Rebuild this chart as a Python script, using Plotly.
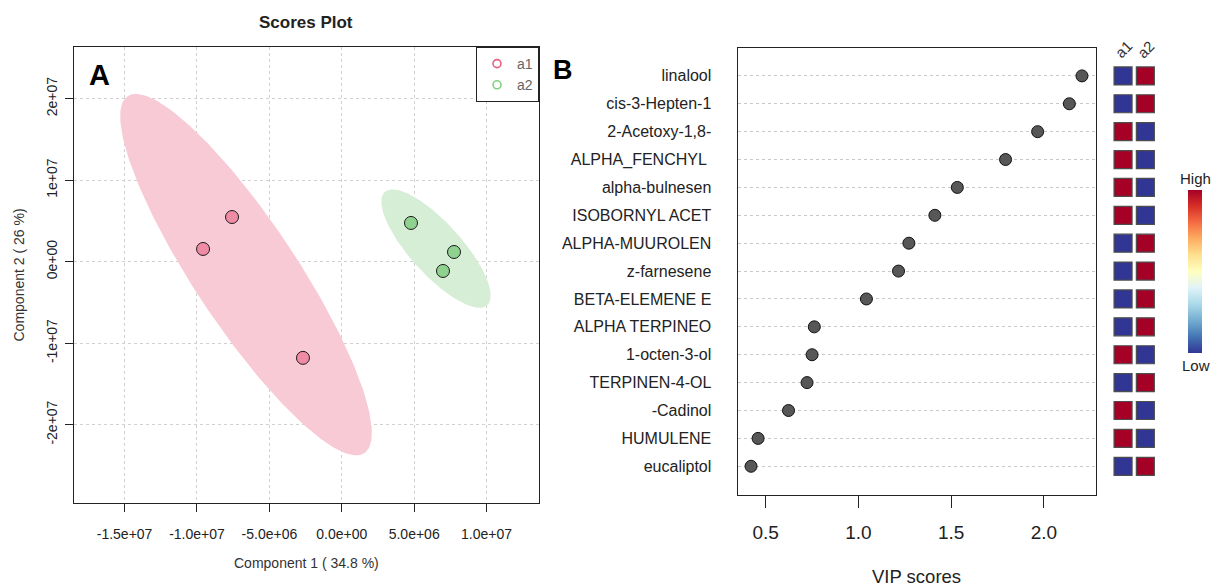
import numpy as np
import plotly.graph_objects as go

W, H = 1212, 588
FONT = "Liberation Sans, Arial, sans-serif"

# ---- PLS-DA scores (component 1 / component 2) ----
a1_comp1 = [-9.58e6, -7.58e6, -2.68e6]
a1_comp2 = [1.56e6, 5.48e6, -1.18e7]
a2_comp1 = [4.78e6, 7.75e6, 6.99e6]
a2_comp2 = [4.75e6, 1.19e6, -1.14e6]

x_ticks = [-1.5e7, -1.0e7, -5.0e6, 0.0, 5.0e6, 1.0e7]
x_tick_text = ["-1.5e+07", "-1.0e+07", "-5.0e+06", "0.0e+00", "5.0e+06", "1.0e+07"]
y_ticks = [-2e7, -1e7, 0.0, 1e7, 2e7]
y_tick_text = ["-2e+07", "-1e+07", "0e+00", "1e+07", "2e+07"]

# ---- VIP scores and group levels ----
compounds = ["linalool", "cis-3-Hepten-1", "2-Acetoxy-1,8-", "ALPHA_FENCHYL\u00a0",
             "alpha-bulnesen", "ISOBORNYL ACET", "ALPHA-MUUROLEN", "z-farnesene",
             "BETA-ELEMENE E", "ALPHA TERPINEO", "1-octen-3-ol", "TERPINEN-4-OL",
             "-Cadinol", "HUMULENE", "eucaliptol"]
vip_scores = [2.205, 2.137, 1.966, 1.793, 1.533, 1.412, 1.272, 1.216,
              1.043, 0.762, 0.750, 0.723, 0.623, 0.459, 0.421]
level_a1 = [0, 0, 1, 1, 1, 1, 0, 0, 0, 0, 1, 0, 1, 1, 0]
level_a2 = [1, 1, 0, 0, 0, 0, 1, 1, 1, 1, 0, 1, 0, 0, 1]
groups = ["a1", "a2"]
vip_ticks = [0.5, 1.0, 1.5, 2.0]

PINK_FILL, PINK_PT, PINK_LEG = "#f8cad6", "#f08ba6", "#e8607f"
GREEN_FILL, GREEN_PT, GREEN_LEG = "#d6edd6", "#8fd28f", "#7fcf7f"


def conf_ellipse(x, y, level_chi2=5.991464547107979, n=240):
    """95% confidence ellipse from the sample covariance."""
    pts = np.vstack([x, y])
    centre = pts.mean(axis=1)
    cov = np.cov(pts)
    vals, vecs = np.linalg.eigh(cov)
    t = np.linspace(0, 2 * np.pi, n)
    circle = np.vstack([np.cos(t), np.sin(t)])
    shape = vecs @ (np.sqrt(vals * level_chi2)[:, None] * circle)
    return centre[0] + shape[0], centre[1] + shape[1]


def px_x(p):
    return p / W


def px_y(p):
    return 1 - p / H


fig = go.Figure()

# confidence regions
for xs, ys, fill in [(a1_comp1, a1_comp2, PINK_FILL), (a2_comp1, a2_comp2, GREEN_FILL)]:
    ex, ey = conf_ellipse(xs, ys)
    fig.add_trace(go.Scatter(x=ex, y=ey, mode="lines", fill="toself", fillcolor=fill,
                             line=dict(width=0, color=fill), hoverinfo="skip",
                             showlegend=False, xaxis="x", yaxis="y"))

# score points
for xs, ys, col in [(a1_comp1, a1_comp2, PINK_PT), (a2_comp1, a2_comp2, GREEN_PT)]:
    fig.add_trace(go.Scatter(x=xs, y=ys, mode="markers", showlegend=False,
                             marker=dict(size=13, color=col, line=dict(color="#1a1a1a", width=1)),
                             xaxis="x", yaxis="y"))

# legend entries (open circles)
for name, col in zip(groups, [PINK_LEG, GREEN_LEG]):
    fig.add_trace(go.Scatter(x=[None], y=[None], mode="markers", name=name,
                             marker=dict(symbol="circle-open", size=8, color=col,
                                         line=dict(width=1.6, color=col)),
                             xaxis="x", yaxis="y"))

# VIP dot plot
rows = list(range(1, len(compounds) + 1))
fig.add_trace(go.Scatter(x=vip_scores, y=rows, mode="markers", showlegend=False,
                         marker=dict(size=12, color="#575757", line=dict(color="#111", width=1)),
                         xaxis="x2", yaxis="y2"))

# group level squares
colorscale = [[0.0, "#313695"], [0.1, "#4575b4"], [0.2, "#74add1"], [0.3, "#abd9e9"],
              [0.4, "#e0f3f8"], [0.5, "#ffffbf"], [0.6, "#fee090"], [0.7, "#fdae61"],
              [0.8, "#f46d43"], [0.9, "#d73027"], [1.0, "#a50026"]]
sq_x = [1] * len(rows) + [2] * len(rows)
sq_y = rows + rows
sq_c = level_a1 + level_a2
fig.add_trace(go.Scatter(
    x=sq_x, y=sq_y, mode="markers", showlegend=False, xaxis="x3", yaxis="y3",
    marker=dict(symbol="square", size=18, color=sq_c, colorscale=colorscale, cmin=0, cmax=1,
                line=dict(color="#4d4d4d", width=1.2), showscale=True,
                colorbar=dict(x=px_x(1188), xanchor="left", xpad=0, ypad=0, thickness=14,
                              lenmode="pixels", len=163, y=px_y(271.5), yanchor="middle",
                              outlinewidth=0, showticklabels=False, ticks=""))))

axis_common = dict(showline=True, mirror=True, linecolor="#222", linewidth=1,
                   zeroline=False, ticks="outside", tickcolor="#222")

fig.update_layout(
    width=W, height=H, margin=dict(l=0, r=0, t=0, b=0),
    paper_bgcolor="white", plot_bgcolor="white",
    font=dict(family=FONT, color="#222"),
    showlegend=True,
    legend=dict(x=px_x(539), xanchor="right", y=px_y(47), yanchor="top",
                bgcolor="white", bordercolor="#222", borderwidth=1,
                font=dict(family=FONT, size=14, color="#666"),
                itemwidth=30, tracegroupgap=0),
    xaxis=dict(domain=[px_x(73.6), px_x(539)], range=[-1.852e7, 1.362e7],
               tickmode="array", tickvals=x_ticks, ticktext=x_tick_text, ticklen=8,
               tickfont=dict(family=FONT, size=14, color="#222"),
               showgrid=True, gridcolor="#d0d0d0", griddash="dot", gridwidth=1,
               ticklabelstandoff=10, automargin=False, **axis_common),
    yaxis=dict(domain=[px_y(503), px_y(47)], range=[-2.961e7, 2.634e7],
               tickmode="array", tickvals=y_ticks, ticktext=y_tick_text, ticklen=8,
               tickfont=dict(family=FONT, size=14, color="#222"),
               tickangle=-90, showgrid=True, gridcolor="#d0d0d0", griddash="dot", gridwidth=1,
               ticklabelstandoff=2, automargin=False, **axis_common),
    xaxis2=dict(domain=[px_x(737.5), px_x(1095.7)], range=[0.348, 2.279],
                tickmode="array", tickvals=vip_ticks, tickformat=".1f", ticklen=12,
                tickfont=dict(family=FONT, size=19, color="#222"),
                showgrid=False, ticklabelstandoff=8, automargin=False, anchor="y2",
                **axis_common),
    yaxis2=dict(domain=[px_y(495), px_y(48)], range=[16.03, 0.0],
                tickmode="array", tickvals=rows, ticktext=compounds, ticks="",
                showgrid=True, gridcolor="#c8c8c8", griddash="dot", gridwidth=1,
                showline=True, mirror=True, linecolor="#222", linewidth=1, zeroline=False,
                tickfont=dict(family=FONT, size=16, color="#222"),
                ticklabelstandoff=22, automargin=False, anchor="x2"),
    xaxis3=dict(domain=[px_x(1111.9), px_x(1156.5)], range=[0.5, 2.5], visible=False,
                anchor="y3"),
    yaxis3=dict(domain=[px_y(495), px_y(48)], range=[16.03, 0.0], visible=False,
                anchor="x3"),
)

annotations = [
    dict(text="<b>Scores Plot</b>", x=px_x(306), y=px_y(22), font=dict(size=17)),
    dict(text="Component 1 ( 34.8 %)", x=px_x(306), y=px_y(563), font=dict(size=14, color="#333")),
    dict(text="Component 2 ( 26 %)", x=px_x(18.5), y=px_y(275), textangle=-90,
         font=dict(size=14, color="#333")),
    dict(text="<b>A</b>", x=px_x(99), y=px_y(75), font=dict(size=29, color="black")),
    dict(text="<b>B</b>", x=px_x(563), y=px_y(70), font=dict(size=27, color="black")),
    dict(text="VIP scores", x=px_x(916.6), y=px_y(576), font=dict(size=18.5, color="#222")),
    dict(text="High", x=px_x(1195), y=px_y(178), font=dict(size=15, color="#222")),
    dict(text="Low", x=px_x(1195.5), y=px_y(365), font=dict(size=15, color="#222")),
]
for a in annotations:
    a.update(xref="paper", yref="paper", showarrow=False, xanchor="center", yanchor="middle")
    a["font"] = dict(family=FONT, **a["font"])
    fig.add_annotation(**a)

for i, g in enumerate(groups):
    fig.add_annotation(text=g, x=i + 1, xref="x3", y=px_y(49), yref="paper",
                       textangle=-45, showarrow=False, xanchor="center", yanchor="middle",
                       font=dict(family=FONT, size=15, color="#333"))

fig.write_html("out.html")
